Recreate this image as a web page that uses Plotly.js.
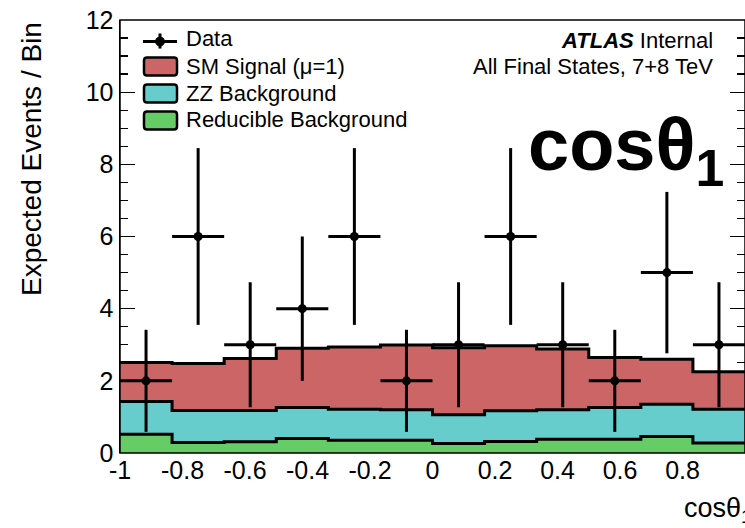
<!DOCTYPE html>
<html>
<head>
<meta charset="utf-8">
<script src="https://cdn.plot.ly/plotly-3.0.1.min.js"></script>
<style>html,body{margin:0;padding:0;background:#fff;}</style>
</head>
<body>
<div id="chart" style="width:745px;height:528px;"></div>
<script>
// Bin edges of the cos(theta1) histogram (12 equal bins on [-1, 1])
const binEdges = [-1, -0.833333, -0.666667, -0.5, -0.333333, -0.166667, 0,
                  0.166667, 0.333333, 0.5, 0.666667, 0.833333, 1];
// Observed events per bin
const dataCounts = [2, 6, 3, 4, 6, 2, 3, 6, 3, 2, 5, 3];
// Expected contributions per bin
const reducibleBkg = [0.52, 0.29, 0.31, 0.40, 0.35, 0.35, 0.26, 0.32, 0.38, 0.38, 0.46, 0.28];
const zzBkg        = [0.91, 0.89, 0.87, 0.86, 0.86, 0.85, 0.80, 0.85, 0.82, 0.88, 0.89, 0.93];
const smSignal     = [1.08, 1.30, 1.44, 1.64, 1.73, 1.79, 1.86, 1.80, 1.68, 1.39, 1.25, 1.04];
// Axis ticks
const xTickVals = [-1, -0.8, -0.6, -0.4, -0.2, 0, 0.2, 0.4, 0.6, 0.8];
const xTickText = ['-1', '-0.8', '-0.6', '-0.4', '-0.2', '0', '0.2', '0.4', '0.6', '0.8'];
const yTickVals = [0, 2, 4, 6, 8, 10, 12];
const yTickText = ['0', '2', '4', '6', '8', '10', '12'];

const COLORS = { signal: '#cc6666', zz: '#66cccc', reducible: '#66cc66' };
const FONT = 'Liberation Sans, Arial, Helvetica, sans-serif';

// stacked cumulative levels
const lvlReducible = reducibleBkg.slice();
const lvlZZ = lvlReducible.map((v, i) => v + zzBkg[i]);
const lvlTotal = lvlZZ.map((v, i) => v + smSignal[i]);

// step-histogram helper: value of each bin held across [edge_i, edge_i+1]
const stepY = arr => arr.concat([arr[arr.length - 1]]);
const centers = binEdges.slice(0, -1).map((e, i) => (e + binEdges[i + 1]) / 2);
const halfWidths = binEdges.slice(0, -1).map((e, i) => (binEdges[i + 1] - e) / 2);

function stackTrace(levels, color, name) {
  return {
    type: 'scatter', mode: 'lines', name: name,
    x: binEdges, y: stepY(levels),
    line: { shape: 'hv', color: '#000', width: 3 },
    fill: 'tozeroy', fillcolor: color,
    hoverinfo: 'skip'
  };
}

const traces = [
  stackTrace(lvlTotal, COLORS.signal, 'SM Signal (\u03bc=1)'),
  stackTrace(lvlZZ, COLORS.zz, 'ZZ Background'),
  stackTrace(lvlReducible, COLORS.reducible, 'Reducible Background'),
  {
    type: 'scatter', mode: 'markers', name: 'Data',
    x: centers, y: dataCounts,
    marker: { color: '#000', size: 9 },
    error_y: { type: 'sqrt', color: '#000', thickness: 3, width: 0 },
    error_x: { type: 'data', array: halfWidths, color: '#000', thickness: 3, width: 0 }
  }
];

// plot-area geometry (pixels) used to place legend / labels in paper units
const M = { l: 120, r: 0, t: 20, b: 75.3 };
const W = 745 - M.l - M.r, H = 528 - M.t - M.b;
const px = x => (x - M.l) / W;
const py = y => (M.t + H - y) / H;

function roundRect(x0, y0, x1, y1, r) {
  const P = (x, y) => px(x).toFixed(5) + ',' + py(y).toFixed(5);
  return 'M' + P(x0 + r, y0) + ' L' + P(x1 - r, y0) + ' Q' + P(x1, y0) + ' ' + P(x1, y0 + r) +
         ' L' + P(x1, y1 - r) + ' Q' + P(x1, y1) + ' ' + P(x1 - r, y1) +
         ' L' + P(x0 + r, y1) + ' Q' + P(x0, y1) + ' ' + P(x0, y1 - r) +
         ' L' + P(x0, y0 + r) + ' Q' + P(x0, y0) + ' ' + P(x0 + r, y0) + ' Z';
}

const legendItems = [
  { label: 'SM Signal (\u03bc=1)', color: COLORS.signal, y: 66.5 },
  { label: 'ZZ Background', color: COLORS.zz, y: 93.5 },
  { label: 'Reducible Background', color: COLORS.reducible, y: 120.5 }
];

const shapes = [
  // frame
  { type: 'rect', xref: 'paper', yref: 'paper', x0: 0, x1: 1, y0: 0, y1: 1,
    line: { color: '#000', width: 1.5 }, layer: 'above' },
  // data legend symbol
  { type: 'line', xref: 'paper', yref: 'paper', x0: px(143), x1: px(177), y0: py(41.5), y1: py(41.5),
    line: { color: '#000', width: 3 } },
  { type: 'line', xref: 'paper', yref: 'paper', x0: px(160), x1: px(160), y0: py(33.5), y1: py(48.5),
    line: { color: '#000', width: 3 } },
  { type: 'circle', xref: 'paper', yref: 'paper', x0: px(155.5), x1: px(164.5), y0: py(37), y1: py(46),
    fillcolor: '#000', line: { color: '#000', width: 1 } }
];
legendItems.forEach(it => {
  shapes.push({ type: 'path', xref: 'paper', yref: 'paper',
    path: roundRect(144, it.y - 9, 177, it.y + 9, 3),
    fillcolor: it.color, line: { color: '#000', width: 2.5 } });
});

const annotations = [
  { text: 'Data', x: px(184), y: py(38.5) },
  { text: legendItems[0].label, x: px(184), y: py(66.5) },
  { text: legendItems[1].label, x: px(184), y: py(93) },
  { text: legendItems[2].label, x: px(184), y: py(119.5) }
].map(a => Object.assign(a, { xref: 'paper', yref: 'paper', xanchor: 'left', yanchor: 'middle',
  showarrow: false, font: { family: FONT, size: 22, color: '#000' } }));

annotations.push(
  { text: '<b><i>ATLAS</i></b> Internal', xref: 'paper', yref: 'paper', x: px(715), y: py(40),
    xanchor: 'right', yanchor: 'middle', showarrow: false,
    font: { family: FONT, size: 22, color: '#000' } },
  { text: 'All Final States, 7+8 TeV', xref: 'paper', yref: 'paper', x: px(715), y: py(66),
    xanchor: 'right', yanchor: 'middle', showarrow: false,
    font: { family: FONT, size: 22, color: '#000' } },
  // large axis-variable label inside the frame
  { text: '<b>cos\u03b8<sub>1</sub></b>', xref: 'paper', yref: 'paper', x: px(526), y: py(150),
    xanchor: 'left', yanchor: 'middle', showarrow: false,
    font: { family: 'Liberation Sans Narrow, Liberation Sans, sans-serif', size: 74, color: '#000' } },
  // y-axis title, aligned to the top of the axis
  { text: 'Expected Events / Bin', xref: 'paper', yref: 'paper', x: px(31), y: py(20),
    xanchor: 'center', yanchor: 'top', textangle: -90, showarrow: false,
    font: { family: FONT, size: 28, color: '#000' } },
  // x-axis title, aligned to the right end of the axis
  { text: 'cos\u03b8<sub>1</sub>', xref: 'paper', yref: 'paper', x: px(682), y: py(510),
    xanchor: 'left', yanchor: 'middle', showarrow: false,
    font: { family: FONT, size: 27, color: '#000' } }
);

const layout = {
  width: 745, height: 528,
  margin: M,
  paper_bgcolor: '#fff', plot_bgcolor: '#fff',
  showlegend: false,
  font: { family: FONT, color: '#000' },
  xaxis: {
    range: [-1, 1], tickmode: 'array', tickvals: xTickVals, ticktext: xTickText,
    ticks: '', showgrid: false, zeroline: false, showline: false,
    tickfont: { family: FONT, size: 25, color: '#000' }
  },
  yaxis: {
    range: [0, 12], tickmode: 'array', tickvals: yTickVals, ticktext: yTickText,
    ticks: 'inside', ticklen: 15, tickwidth: 1.3, tickcolor: '#000',
    minor: { dtick: 0.5, ticks: 'inside', ticklen: 8, tickwidth: 1.3, tickcolor: '#000', showgrid: false },
    showline: true, linecolor: '#000', linewidth: 1.5, mirror: 'allticks',
    layer: 'below traces', showgrid: false, zeroline: false,
    tickfont: { family: FONT, size: 25, color: '#000' }
  },
  shapes: shapes,
  annotations: annotations
};

Plotly.newPlot('chart', traces, layout, { staticPlot: true, displayModeBar: false });
</script>
</body>
</html>
